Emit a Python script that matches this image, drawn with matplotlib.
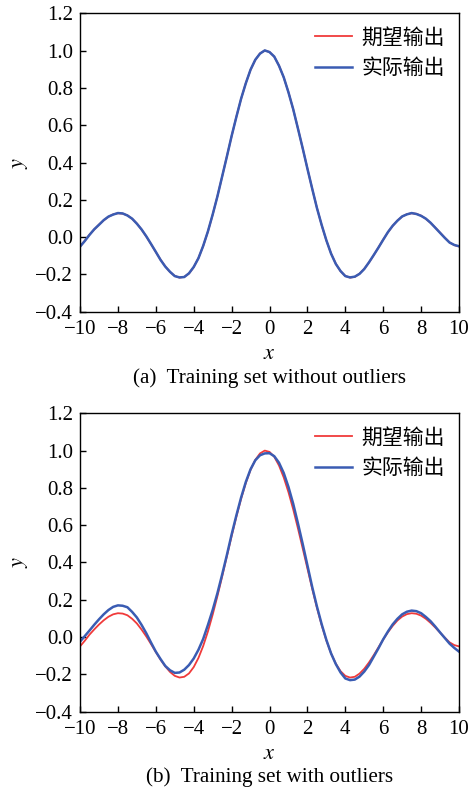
import numpy as np
import matplotlib
matplotlib.use("Agg")
import matplotlib.pyplot as plt

plt.rcParams["font.family"] = ["Liberation Serif", "Noto Sans CJK SC"]
plt.rcParams["mathtext.fontset"] = "stix"

# sample positions, step 0.25 from -10 to 10
X = np.linspace(-10, 10, 81)

# expected output (red)
Y_EXPECTED = [-0.050, -0.020, 0.013, 0.041, 0.067, 0.090, 0.109, 0.122, 0.128, 0.126, 0.117, 0.098,
              0.073, 0.040, 0.003, -0.038, -0.080, -0.121, -0.157, -0.187, -0.208, -0.217, -0.213, -0.195,
              -0.161, -0.112, -0.048, 0.030, 0.120,
              0.219, 0.324, 0.433, 0.541, 0.645, 0.741, 0.826, 0.897, 0.950, 0.985, 1.000, 0.993,
              0.967, 0.920, 0.856, 0.777, 0.685, 0.583, 0.476, 0.368, 0.260, 0.158, 0.065,
              -0.018, -0.088, -0.143, -0.183, -0.208, -0.217, -0.213, -0.196, -0.170, -0.136, -0.097, -0.055,
              -0.013, 0.026, 0.060, 0.089, 0.110, 0.123, 0.128, 0.125, 0.115, 0.098, 0.076, 0.051,
              0.024, -0.003, -0.028, -0.043, -0.050]

# actual output (blue), training set without outliers
Y_ACTUAL_A = [-0.051, -0.021, 0.012, 0.042, 0.066, 0.091, 0.110, 0.121, 0.129, 0.127, 0.116, 0.099,
              0.072, 0.041, 0.004, -0.037, -0.079, -0.122, -0.158, -0.186, -0.209, -0.216, -0.214, -0.194,
              -0.160, -0.113, -0.047, 0.031, 0.121,
              0.218, 0.325, 0.432, 0.542, 0.644, 0.742, 0.825, 0.898, 0.951, 0.984, 1.001, 0.992,
              0.968, 0.919, 0.857, 0.776, 0.686, 0.582, 0.477, 0.367, 0.261, 0.157, 0.066,
              -0.017, -0.089, -0.144, -0.182, -0.209, -0.216, -0.212, -0.197, -0.171, -0.135, -0.096, -0.056,
              -0.014, 0.027, 0.061, 0.088, 0.111, 0.122, 0.129, 0.124, 0.114, 0.099, 0.077, 0.050,
              0.023, -0.004, -0.029, -0.042, -0.049]

# actual output (blue), training set with outliers
Y_ACTUAL_B = [-0.025, 0.005, 0.035, 0.066, 0.095, 0.122, 0.145, 0.162, 0.170, 0.168, 0.160, 0.135,
              0.105, 0.065, 0.020, -0.030, -0.078, -0.118, -0.155, -0.178, -0.192, -0.190, -0.175, -0.150,
              -0.115, -0.068, -0.010, 0.065, 0.145,
              0.235, 0.335, 0.440, 0.550, 0.652, 0.748, 0.832, 0.900, 0.948, 0.975, 0.985, 0.986,
              0.970, 0.935, 0.880, 0.805, 0.715, 0.610, 0.500, 0.385, 0.270, 0.165, 0.070,
              -0.015, -0.088, -0.145, -0.190, -0.222, -0.231, -0.228, -0.212, -0.185, -0.150, -0.105, -0.060,
              -0.012, 0.030, 0.068, 0.098, 0.122, 0.136, 0.142, 0.139, 0.128, 0.108, 0.085, 0.056,
              0.025, -0.005, -0.035, -0.058, -0.078]

LABELS = ["期望输出", "实际输出"]
CAPTIONS = ["(a)  Training set without outliers", "(b)  Training set with outliers"]
XTICKS = np.arange(-10, 11, 2)
YTICKS = np.arange(-0.4, 1.21, 0.2)

RED = "#f03a3a"
BLUE = "#3a5cb3"

fig = plt.figure(figsize=(4.69, 7.91), dpi=100)
axes = [fig.add_axes([0.1706, 0.6059, 0.8081, 0.3773]),
        fig.add_axes([0.1706, 0.1003, 0.8081, 0.3772])]

panels = [(Y_EXPECTED, Y_ACTUAL_A), (Y_EXPECTED, Y_ACTUAL_B)]

for ax, (y_exp, y_act), cap in zip(axes, panels, CAPTIONS):
    ax.plot(X, y_exp, color=RED, lw=1.3, label=LABELS[0])
    ax.plot(X, y_act, color=BLUE, lw=1.8, label=LABELS[1])
    ax.set_xlim(-10, 10)
    ax.set_ylim(-0.4, 1.2)
    ax.set_xticks(XTICKS)
    ax.set_yticks(YTICKS)
    ax.set_xticklabels([f"{t:d}".replace("-", "\u2212") for t in XTICKS])
    ax.set_yticklabels([f"{t:.1f}".replace("-", "\u2212") for t in YTICKS])
    ax.tick_params(direction="in", length=4, width=1, labelsize=15, pad=5,
                   top=False, right=False)
    ax.tick_params(axis="x", pad=6)
    for s in ax.spines.values():
        s.set_linewidth(1.0)
    ax.set_xlabel("$x$", fontsize=16, labelpad=4)
    ax.set_ylabel("$y$", fontsize=16, labelpad=4)
    ax.legend(loc="upper right", bbox_to_anchor=(0.962, 0.948), frameon=False,
              fontsize=15, handlelength=1.75, handletextpad=0.45,
              labelspacing=0.5, borderpad=0, borderaxespad=0)
    ax.text(0.5, -0.221, cap, transform=ax.transAxes, ha="center", va="center",
            fontsize=15.2)

fig.savefig("out.png", dpi=100)
